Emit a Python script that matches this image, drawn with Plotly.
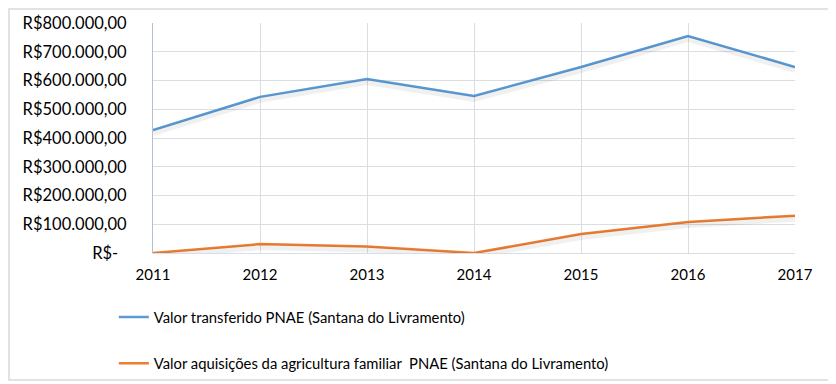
import plotly.graph_objects as go

years = [2011, 2012, 2013, 2014, 2015, 2016, 2017]
valor_transferido = [428000, 543000, 605000, 546000, 647000, 755000, 647000]
valor_agricultura = [0, 31000, 23000, 0, 66000, 108000, 130000]

name_transferido = "Valor transferido PNAE (Santana do Livramento)"
name_agricultura = "Valor aquisições da agricultura familiar  PNAE (Santana do Livramento)"

y_tickvals = [0, 100000, 200000, 300000, 400000, 500000, 600000, 700000, 800000]
y_ticktext = ["R$-  ", "R$100.000,00", "R$200.000,00", "R$300.000,00", "R$400.000,00",
              "R$500.000,00", "R$600.000,00", "R$700.000,00", "R$800.000,00"]

BLUE = "#5b9bd5"
ORANGE = "#ed7d31"
GRID = "#d9dde4"
FONT = "Lato"

y_max = 800000
L, R, T, B = 145, 49, 15, 139
W, H = 836, 384
plot_w = W - L - R
plot_h = H - T - B
shadow_shift = 3 * y_max / plot_h

fig = go.Figure()

# soft shadows (same data, drawn on an overlaid axis shifted a few pixels down)
for vals in (valor_transferido, valor_agricultura):
    fig.add_trace(go.Scatter(x=years, y=vals, mode="lines", yaxis="y2",
                             line=dict(color="rgba(0,0,0,0.06)", width=6),
                             showlegend=False, hoverinfo="skip"))

fig.add_trace(go.Scatter(x=years, y=valor_transferido, mode="lines", name=name_transferido,
                         line=dict(color=BLUE, width=2.5), legendgroup="a"))
fig.add_trace(go.Scatter(x=years, y=valor_agricultura, mode="lines", name=name_agricultura,
                         line=dict(color=ORANGE, width=2.5), legendgroup="b"))

fig.update_layout(
    width=W, height=H,
    margin=dict(l=L, r=R, t=T, b=B, autoexpand=False),
    paper_bgcolor="white", plot_bgcolor="white",
    font=dict(family=FONT, color="#000000"),
    xaxis=dict(range=[2011, 2017], tickvals=years, ticktext=[str(y) for y in years],
               showgrid=True, gridcolor=GRID, gridwidth=1, zeroline=False,
               showline=True, linecolor=GRID, linewidth=1, automargin=False,
               tickfont=dict(size=15, family=FONT), ticklabelstandoff=8),
    yaxis=dict(range=[0, y_max], tickvals=y_tickvals, ticktext=y_ticktext,
               showgrid=True, gridcolor=GRID, gridwidth=1, zeroline=False,
               showline=True, linecolor="#b4c0d2", linewidth=1, automargin=False,
               tickfont=dict(size=16.5, family=FONT), ticklabelstandoff=22),
    yaxis2=dict(range=[shadow_shift, y_max + shadow_shift], overlaying="y",
                visible=False),
    legend=dict(x=-0.061, xanchor="left", y=-0.208, yanchor="top",
                orientation="v", tracegroupgap=24,
                font=dict(size=14.8, family=FONT, color="#000000"),
                bgcolor="rgba(0,0,0,0)"),
    showlegend=True,
    shapes=[dict(type="rect", xref="paper", yref="paper",
                 x0=-(L - 1) / plot_w, x1=(825 - L) / plot_w,
                 y0=-(372 - (H - B)) / plot_h, y1=1 + (T - 1) / plot_h,
                 line=dict(color="#d9d9d9", width=1.5), layer="below")],
)

fig.write_html("out.html")
